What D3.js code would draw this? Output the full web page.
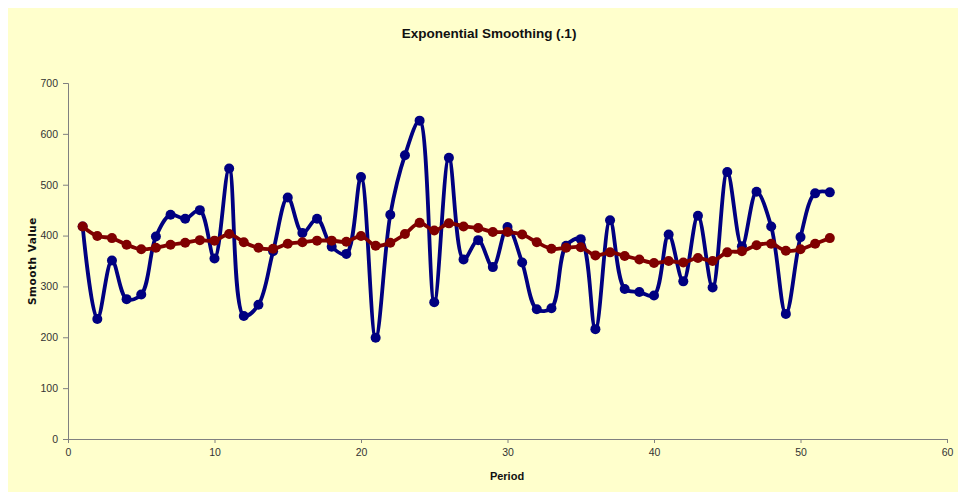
<!DOCTYPE html>
<html>
<head>
<meta charset="utf-8">
<script src="https://cdn.jsdelivr.net/npm/d3@7"></script>
<style>
  html, body { margin: 0; padding: 0; background: #ffffff; }
  svg { display: block; }
</style>
</head>
<body>
<svg id="chart" width="958" height="492"></svg>
<script>
const periods = d3.range(1, 53);
const actualValues = [418, 236, 351, 275, 284, 398, 441, 433, 450, 355,
  532, 242, 264, 369, 475, 405, 433, 378, 364, 515,
  199, 441, 558, 626, 269, 553, 353, 391, 338, 417,
  347, 255, 257, 380, 393, 216, 430, 295, 289, 282,
  402, 310, 439, 298, 525, 379, 486, 418, 246, 397,
  483, 485];
const smoothValues = [418, 399, 395, 382, 373, 376, 382, 386, 391, 390,
  403, 387, 376, 374, 384, 387, 390, 390, 388, 399,
  380, 386, 403, 425, 410, 424, 418, 415, 407, 407,
  402, 387, 374, 376, 377, 361, 367, 360, 353, 346,
  350, 347, 356, 350, 367, 369, 381, 384, 370, 373,
  384, 395];
const xTicks = [0, 10, 20, 30, 40, 50, 60];
const yTicks = [0, 100, 200, 300, 400, 500, 600, 700];
const titleText = "Exponential Smoothing (.1)";
const xTitle = "Period";
const yTitle = "Smooth Value";

const svg = d3.select("#chart");
svg.append("rect").attr("x", 8).attr("y", 8).attr("width", 950).attr("height", 484)
  .attr("fill", "#ffffcc");

const m = { left: 68, right: 947, top: 83, bottom: 439 };
const x = d3.scaleLinear().domain([0, 60]).range([m.left, m.right]);
const y = d3.scaleLinear().domain([0, 700]).range([m.bottom, m.top]);

const axisColor = "#808080";
const labelFont = "Arial, 'Liberation Sans', sans-serif";

// Y axis
const gy = svg.append("g").attr("transform", `translate(${m.left},0)`)
  .call(d3.axisLeft(y).tickValues(yTicks).tickSize(5).tickPadding(5));
gy.select(".domain").attr("stroke", axisColor);
gy.selectAll(".tick line").attr("stroke", axisColor);
gy.selectAll(".tick text").attr("fill", "#333").attr("font-family", labelFont).attr("font-size", "10.5px");

// X axis
const gx = svg.append("g").attr("transform", `translate(0,${m.bottom})`)
  .call(d3.axisBottom(x).tickValues(xTicks).tickSize(4).tickPadding(6));
gx.select(".domain").attr("stroke", axisColor);
gx.selectAll(".tick line").attr("stroke", axisColor);
gx.selectAll(".tick text").attr("fill", "#333").attr("font-family", labelFont).attr("font-size", "10.5px");

// Titles
svg.append("text").attr("x", 489).attr("y", 38).attr("text-anchor", "middle")
  .attr("font-family", labelFont).attr("font-weight", "bold").attr("font-size", "13.5px")
  .attr("fill", "#111").text(titleText);
svg.append("text").attr("x", 507).attr("y", 480).attr("text-anchor", "middle")
  .attr("font-family", labelFont).attr("font-weight", "bold").attr("font-size", "11px")
  .attr("fill", "#111").text(xTitle);
svg.append("text").attr("transform", "translate(36,261) rotate(-90)").attr("text-anchor", "middle")
  .attr("font-family", "'DejaVu Sans', sans-serif").attr("font-weight", "bold").attr("font-size", "10.5px")
  .attr("letter-spacing", "0.5px")
  .attr("fill", "#111").text(yTitle);

const line = d3.line().x((d, i) => x(periods[i])).y(d => y(d)).curve(d3.curveCatmullRom.alpha(0.5));

function series(vals, color) {
  svg.append("path").datum(vals).attr("d", line).attr("fill", "none")
    .attr("stroke", color).attr("stroke-width", 3.8).attr("stroke-linejoin", "round");
  svg.append("g").selectAll("circle").data(vals).join("circle")
    .attr("cx", (d, i) => x(periods[i])).attr("cy", d => y(d)).attr("r", 5)
    .attr("fill", color);
}
series(actualValues, "#000080");
series(smoothValues, "#800000");
</script>
</body>
</html>
